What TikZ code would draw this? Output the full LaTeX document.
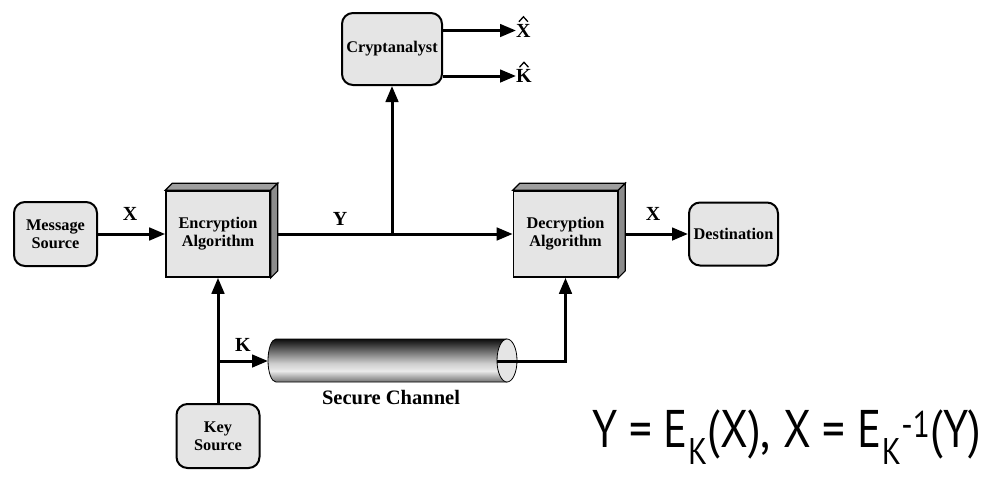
\documentclass[tikz,border=0pt]{standalone}
\usepackage{fontspec}
\setmainfont{Liberation Serif}
\newfontfamily\eqfont{PT Sans}
\usetikzlibrary{arrows.meta}
\definecolor{boxgray}{gray}{0.9}
\definecolor{topgray}{gray}{0.62}
\definecolor{sidegray}{gray}{0.55}
\pgfdeclareverticalshading{chanshade}{100bp}{color(0bp)=(black!55); color(25bp)=(black!55); color(38bp)=(white!92!black); color(47bp)=(white!80!black); color(75bp)=(black!95); color(100bp)=(black!95)}
\tikzset{
  conn/.style={line width=3pt, -{Triangle[length=16pt,width=12.5pt]}},
  plainline/.style={line width=3pt},
  rbox/.style={draw, line width=2pt, rounded corners=11pt, fill=boxgray, align=center, inner sep=0pt,
    font=\bfseries\fontsize{16.3}{18}\selectfont},
  cube/.style={draw, line width=1.6pt, fill=boxgray, align=center, inner sep=0pt,
    minimum width=104pt, minimum height=86pt, font=\bfseries\fontsize{16.3}{18}\selectfont},
  face/.style={draw, line width=1.2pt},
  lab/.style={font=\bfseries\fontsize{20}{22}\selectfont, inner sep=0pt},
  hat/.style={line width=1.3pt, line join=miter},
}
\begin{document}
\begin{tikzpicture}[x=1pt,y=-1pt]
\useasboundingbox (0,0) rectangle (1006,483);
% nodes
\node[rbox, minimum width=83pt, minimum height=64pt] (msg) at (55.5,234) {Message\\Source};
\node[cube] (enc) at (218,234) {Encryption\\Algorithm};
\node[cube] (dec) at (565.5,234) {Decryption\\Algorithm};
\node[rbox, minimum width=89pt, minimum height=63pt] (dest) at (733.5,234) {Destination};
\node[rbox, minimum width=100pt, minimum height=72pt] (crypt) at (392,49) {Cryptanalyst};
\node[rbox, minimum width=83pt, minimum height=64pt] (key) at (218,436) {Key\\Source};
% labels
\node[lab] (lx1) at (130,214) {X};
\node[lab] (ly) at (340,219) {Y};
\node[lab] (lx2) at (653,214) {X};
\node[lab] (lk) at (243,345) {K};
\node[lab, anchor=west] (xhat) at (516,30.5) {X};
\node[lab, anchor=west] (khat) at (516,76) {K};
\draw[hat] ([xshift=-4.5pt,yshift=2pt]xhat.north) -- ([yshift=7pt]xhat.north) -- ([xshift=4.5pt,yshift=2pt]xhat.north);
\draw[hat] ([xshift=-4.5pt,yshift=2pt]khat.north) -- ([yshift=7pt]khat.north) -- ([xshift=4.5pt,yshift=2pt]khat.north);
\node[font=\bfseries\fontsize{20.5}{22}\selectfont, inner sep=0pt] (chanlab) at (391,398) {Secure Channel};
% coordinates
\coordinate (junc) at (392,234);
\coordinate (kb) at (218,361);
\coordinate (chanL) at (268,361);
\coordinate (chanR) at (497,361);
% secure channel cylinder
\shade[shading=chanshade] (507,339) -- (276,339) arc[start angle=270, end angle=90, x radius=8, y radius=21.5] -- (507,382) -- cycle;
\draw[line width=0.8pt] (507,339) -- (276,339) arc[start angle=270, end angle=90, x radius=8, y radius=21.5] -- (507,382);
\draw[line width=0.8pt, fill=boxgray] (507,360.5) ellipse[x radius=10, y radius=21.5];
% connectors
\draw[conn] (msg.east) -- (enc.west);
\draw[plainline] (enc.east) -- (junc);
\draw[conn] (junc) -- (dec.west);
\draw[conn] (junc) -- (crypt.south);
\draw[conn] (dec.east) -- (dest.west);
\draw[conn] (crypt.east |- xhat.west) -- (xhat.west);
\draw[conn] (crypt.east |- khat.west) -- (khat.west);
\draw[conn] (key.north) -- (enc.south);
\draw[conn] (kb) -- (chanL);
\draw[conn] (chanR) -| (dec.south);
% 3D faces
\foreach \n in {enc,dec}{
  \draw[face, fill=topgray] (\n.north west) -- ([shift={(7,-7)}]\n.north west) -- ([shift={(7,-7)}]\n.north east) -- (\n.north east) -- cycle;
  \draw[face, fill=sidegray] (\n.north east) -- ([shift={(7,-7)}]\n.north east) -- ([shift={(7,-7)}]\n.south east) -- (\n.south east) -- cycle;
}
% equation
\node[anchor=base east, inner sep=0pt, font=\eqfont\fontsize{53}{58}\selectfont] (eq) at (981,447)
  {\scalebox{0.85}[1]{Y = E\textsubscript{K}(X), X = E\textsubscript{K}\textsuperscript{-1}(Y)}};
\end{tikzpicture}
\end{document}
